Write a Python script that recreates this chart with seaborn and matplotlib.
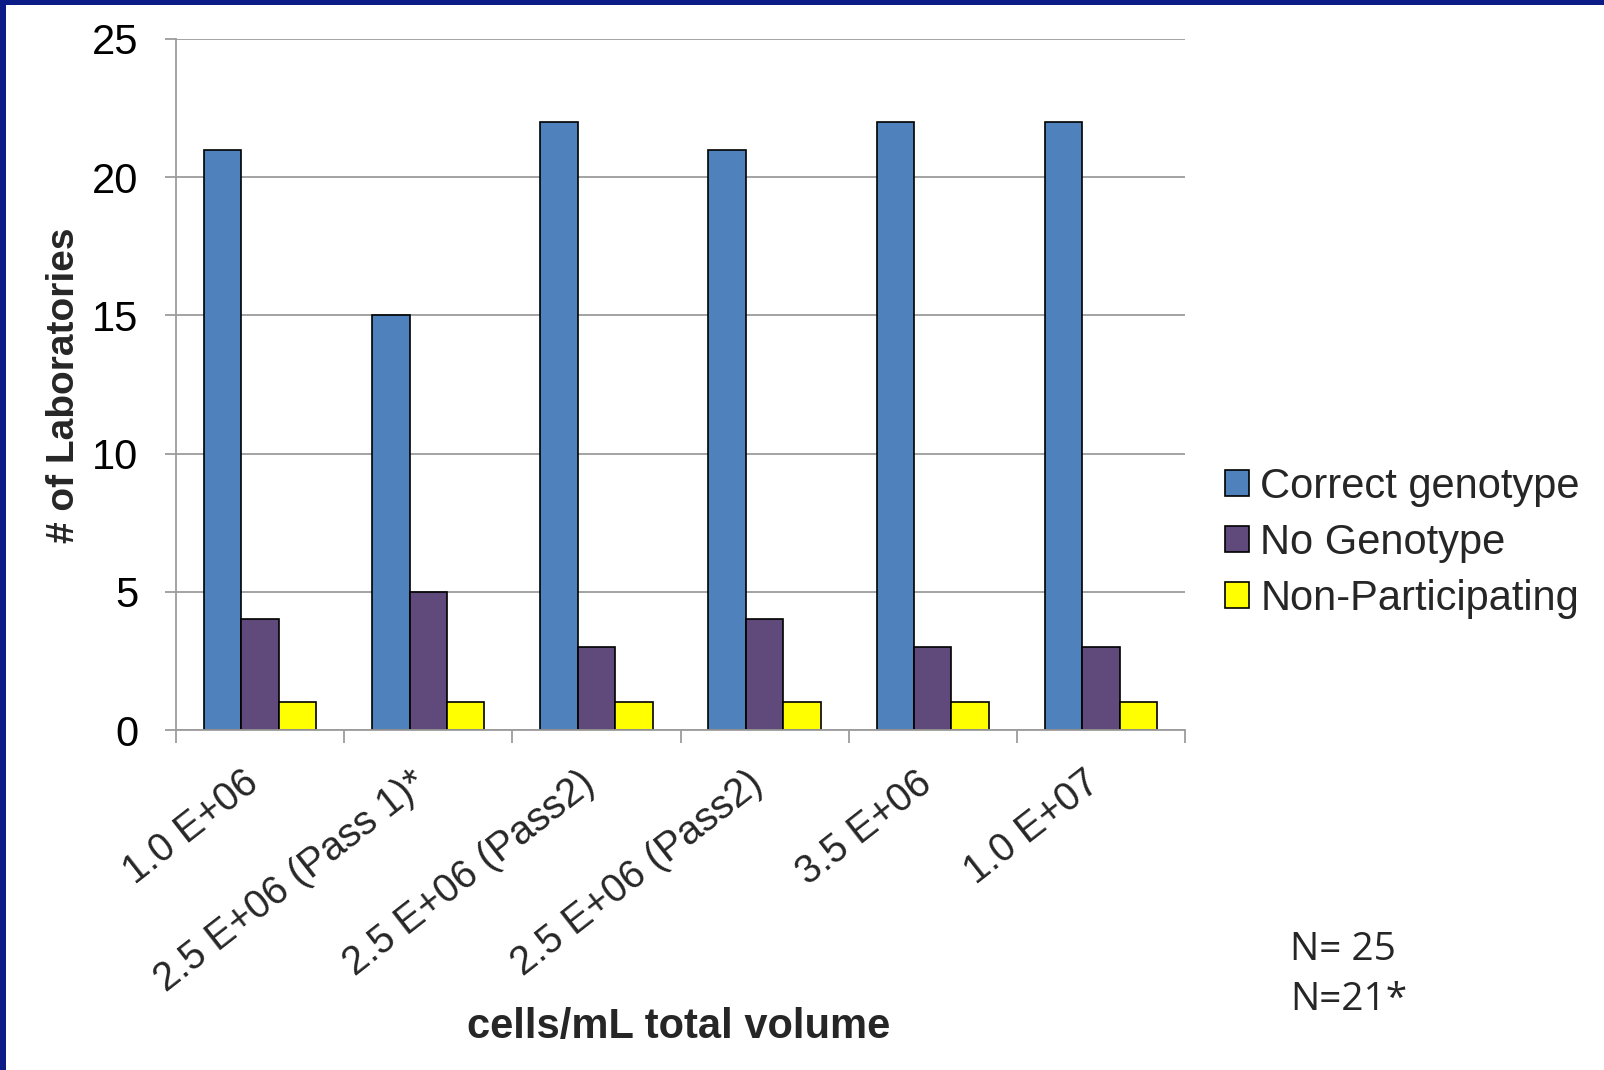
import matplotlib
matplotlib.use("Agg")
import matplotlib.pyplot as plt
from matplotlib.patches import Rectangle
from matplotlib.transforms import ScaledTranslation
import seaborn as sns
import pandas as pd

# Data
categories = ["1.0 E+06", "2.5 E+06 (Pass 1)*", "2.5 E+06 (Pass2)",
              "2.5 E+06 (Pass2)", "3.5 E+06", "1.0 E+07"]
series = ["Correct genotype", "No Genotype", "Non-Participating"]
correct_genotype = [21, 15, 22, 21, 22, 22]
no_genotype = [4, 5, 3, 4, 3, 3]
non_participating = [1, 1, 1, 1, 1, 1]
colors = ["#4F81BD", "#604A7B", "#FFFF00"]

rows = []
for name, vals in zip(series, [correct_genotype, no_genotype, non_participating]):
    for i, v in enumerate(vals):
        rows.append({"pos": i, "series": name, "value": v})
df = pd.DataFrame(rows)

sns.set_theme(style="white")
plt.rcParams["font.family"] = ["Liberation Sans", "DejaVu Sans"]

W, H = 1604, 1070
fig = plt.figure(figsize=(W / 100, H / 100), dpi=100)
ax = fig.add_axes([176 / W, 1 - 730 / H, (1185 - 176) / W, (730 - 39) / H])

sns.barplot(data=df, x="pos", y="value", hue="series", hue_order=series,
            palette=colors, width=0.667, gap=0, edgecolor="black",
            linewidth=1.2, saturation=1, errorbar=None, ax=ax)

handles, labels = ax.get_legend_handles_labels()
if ax.get_legend() is not None:
    ax.get_legend().remove()

grid_c = "#9C9C9C"
ax.set_xlim(-0.5, len(categories) - 0.5)
ax.set_ylim(0, 25)
ax.set_yticks([0, 5, 10, 15, 20, 25])
ax.yaxis.grid(True, color=grid_c, linewidth=1.3)
ax.set_axisbelow(True)
for s in ["top", "right"]:
    ax.spines[s].set_visible(False)
for s in ["left", "bottom"]:
    ax.spines[s].set_color(grid_c)
    ax.spines[s].set_linewidth(1.3)

ax.tick_params(axis="y", which="major", length=8, width=1.3, color=grid_c,
               labelsize=30, pad=19, left=True, labelcolor="black")

# category labels at the group centres, boundary tick marks between groups
ax.set_xticks(range(len(categories)))
ax.set_xticklabels(categories, rotation=38, ha="right", va="center",
                   rotation_mode="anchor", fontsize=28.5)
ax.tick_params(axis="x", which="major", length=0, pad=35)
shift = ScaledTranslation(-6 / 100, 0, fig.dpi_scale_trans)
for lab in ax.get_xticklabels():
    lab.set_transform(lab.get_transform() + shift)
ax.set_xticks([i - 0.5 for i in range(len(categories) + 1)], minor=True)
ax.tick_params(axis="x", which="minor", length=9, width=1.3, color=grid_c,
               bottom=True)

ax.set_xlabel("")
ax.set_ylabel("")
fig.text(64 / W, 1 - 385 / H, "# of Laboratories", rotation=90,
         ha="center", va="center", fontsize=28, fontweight="bold")
fig.text(679 / W, 1 - 1027 / H, "cells/mL total volume",
         ha="center", va="center", fontsize=30, fontweight="bold")

leg = fig.legend(handles, labels, loc="center left",
                 bbox_to_anchor=(1225 / W, 1 - 543 / H), frameon=False,
                 fontsize=30, handlelength=0.58, handleheight=0.58,
                 handletextpad=0.27, labelspacing=0.38, borderpad=0,
                 borderaxespad=0)
for h in leg.legend_handles:
    h.set_edgecolor("black")
    h.set_linewidth(1.2)

fig.text(1290 / W, 1 - 960 / H, "N= 25", fontsize=28,
         family=["Open Sans", "DejaVu Sans"], va="baseline", ha="left")
fig.text(1290 / W, 1 - 1010 / H, "N=21*", fontsize=28,
         family=["Open Sans", "DejaVu Sans"], va="baseline", ha="left")

# slide frame along the top and left edges
border = "#0B1C86"
fig.patches.append(Rectangle((0, 1 - 5 / H), 1, 5 / H, transform=fig.transFigure,
                             facecolor=border, edgecolor="none", zorder=10))
fig.patches.append(Rectangle((0, 0), 6 / W, 1, transform=fig.transFigure,
                             facecolor=border, edgecolor="none", zorder=10))

fig.savefig("out.png", dpi=100, facecolor="white")
